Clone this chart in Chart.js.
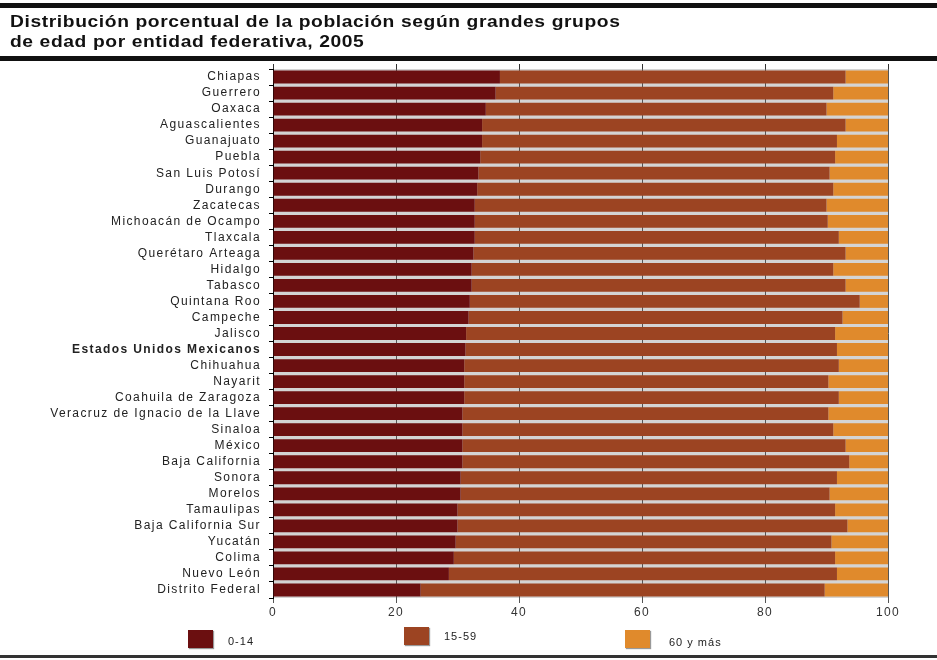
<!DOCTYPE html>
<html>
<head>
<meta charset="utf-8">
<script src="https://cdn.jsdelivr.net/npm/chart.js@4.4.1/dist/chart.umd.min.js"></script>
<style>
  html, body { margin: 0; padding: 0; background: #fff; }
  #page { position: relative; width: 937px; height: 660px; overflow: hidden; font-family: "Liberation Sans", Arial, sans-serif; }
  #page canvas { position: absolute; left: 0; top: 0; }
  .rule { position: absolute; left: 0; width: 937px; background: #111; }
  #title { position: absolute; left: 10px; top: 12px; display: inline-block; white-space: nowrap;
           font-weight: bold; font-size: 16px; line-height: 20px; letter-spacing: 0.5px; color: #111;
           transform-origin: 0 0; }
  .leg { position: absolute; font-size: 11px; color: #222; letter-spacing: 1px; }
  .leg i { position: absolute; width: 25px; height: 18px; box-shadow: 1px 1px 1px #999; }
</style>
</head>
<body>
<div id="page">
  <canvas id="chart" width="937" height="660"></canvas>
  <div class="rule" style="top:3px;height:5px"></div>
  <div id="title">Distribución porcentual de la población según grandes grupos<br>de edad por entidad federativa, 2005</div>
  <div class="rule" style="top:56px;height:5px"></div>
  <div class="rule" style="top:655px;height:3px;background:#333"></div>
  <div id="legend"></div>
</div>
<script>
// entidades, de mayor a menor proporción de 0-14
const estados = [
    'Chiapas', 'Guerrero', 'Oaxaca', 'Aguascalientes', 'Guanajuato', 'Puebla',
    'San Luis Potosí', 'Durango', 'Zacatecas', 'Michoacán de Ocampo', 'Tlaxcala',
    'Querétaro Arteaga', 'Hidalgo', 'Tabasco', 'Quintana Roo', 'Campeche', 'Jalisco',
    'Estados Unidos Mexicanos', 'Chihuahua', 'Nayarit', 'Coahuila de Zaragoza',
    'Veracruz de Ignacio de la Llave', 'Sinaloa', 'México', 'Baja California', 'Sonora',
    'Morelos', 'Tamaulipas', 'Baja California Sur', 'Yucatán', 'Colima', 'Nuevo León',
    'Distrito Federal'
];

const grupos = ['0-14', '15-59', '60 y más'];
const colores = ['#6b0f10', '#9c4422', '#e08a2c'];

const ninos = [36.9, 36.2, 34.6, 34.0, 34.0, 33.7, 33.4, 33.2, 32.8, 32.8, 32.8, 32.6, 32.3, 32.3, 32.0, 31.8, 31.4,
    31.3, 31.1, 31.1, 31.1, 30.8, 30.8, 30.8, 30.8, 30.5, 30.5, 30.0, 30.0, 29.7, 29.4, 28.6, 24.0];
const adultos = [56.2, 54.9, 55.4, 59.1, 57.7, 57.7, 57.1, 57.9, 57.2, 57.4, 59.2, 60.5, 58.8, 60.8, 63.4, 60.8, 60.0,
    60.4, 60.9, 59.2, 60.9, 59.5, 60.3, 62.3, 62.9, 61.2, 60.0, 61.4, 63.4, 61.1, 62.0, 63.1, 65.7];
const mayores = [6.9, 8.9, 10.0, 6.9, 8.3, 8.6, 9.5, 8.9, 10.0, 9.8, 8.0, 6.9, 8.9, 6.9, 4.6, 7.4, 8.6,
    8.3, 8.0, 9.7, 8.0, 9.7, 8.9, 6.9, 6.3, 8.3, 9.5, 8.6, 6.6, 9.2, 8.6, 8.3, 10.3];

const xTicks = [0, 20, 40, 60, 80, 100];

const fuente = '"Liberation Sans", Arial, sans-serif';

// fondo gris del area para que se vean las separaciones,
// y letra mas abierta como en el original
const fondoArea = {
    id: 'fondoArea',
    beforeDraw(chart) {
        const { ctx, chartArea: a } = chart;
        ctx.letterSpacing = '1.4px';
        ctx.save();
        ctx.fillStyle = '#d4d4d4';
        ctx.fillRect(a.left, a.top, a.right - a.left, a.bottom - a.top);
        ctx.restore();
    }
};

const series = [ninos, adultos, mayores];

new Chart(document.getElementById('chart'), {
    type: 'bar',
    data: {
        labels: estados,
        datasets: series.map((d, i) => ({
            label: grupos[i],
            data: d,
            backgroundColor: colores[i],
            borderWidth: 0,
            barPercentage: 0.8,
            categoryPercentage: 1
        }))
    },
    options: {
        indexAxis: 'y',
        responsive: false,
        animation: false,
        layout: { padding: { top: 64, right: 49, bottom: 32, left: 0 } },
        plugins: { legend: { display: false }, tooltip: { enabled: false } },
        scales: {
            x: {
                stacked: true,
                min: 0, max: 100,
                afterBuildTicks: s => { s.ticks = xTicks.map(v => ({ value: v })); },
                afterFit: s => { s.height = 30; },
                border: { display: false },
                grid: { color: '#555', tickLength: 5 },
                ticks: { padding: 2, color: '#333', font: { family: fuente, size: 12 } }
            },
            xTop: {
                position: 'top',
                axis: 'x',
                min: 0, max: 100,
                afterBuildTicks: s => { s.ticks = xTicks.map(v => ({ value: v })); },
                afterFit: s => { s.height = 5; },
                border: { display: false },
                grid: { drawOnChartArea: false, color: '#333', tickLength: 5 },
                ticks: { display: false }
            },
            y: {
                stacked: true,
                afterFit: s => { s.width = 273; },
                border: { display: true, color: '#000', width: 1 },
                grid: { drawOnChartArea: false, color: '#000', tickLength: 4, offset: true },
                ticks: {
                    padding: 8,
                    color: '#222',
                    autoSkip: false,
                    font: ctx => ({
                        family: fuente,
                        size: 12,
                        weight: estados[ctx.index] === 'Estados Unidos Mexicanos' ? 'bold' : 'normal'
                    })
                }
            }
        }
    },
    plugins: [fondoArea]
});

// titulo estirado al ancho del original
const title = document.getElementById('title');
title.style.transform = `scaleX(${610 / title.offsetWidth})`;

// leyenda en HTML con la misma disposicion que el original
const legPos = [188, 404, 625];
const legTop = [630, 627, 630];
const legText = [5, 3, 6];
const legend = document.getElementById('legend');
grupos.forEach((g, i) => {
    const el = document.createElement('div');
    el.className = 'leg';
    el.style.left = legPos[i] + 'px';
    el.style.top = legTop[i] + 'px';
    el.innerHTML = `<i style="left:0;top:0;background:${colores[i]}"></i><span style="position:absolute;left:${i === 2 ? 44 : 40}px;top:${legText[i]}px;white-space:nowrap">${g}</span>`;
    legend.appendChild(el);
});
</script>
</body>
</html>
